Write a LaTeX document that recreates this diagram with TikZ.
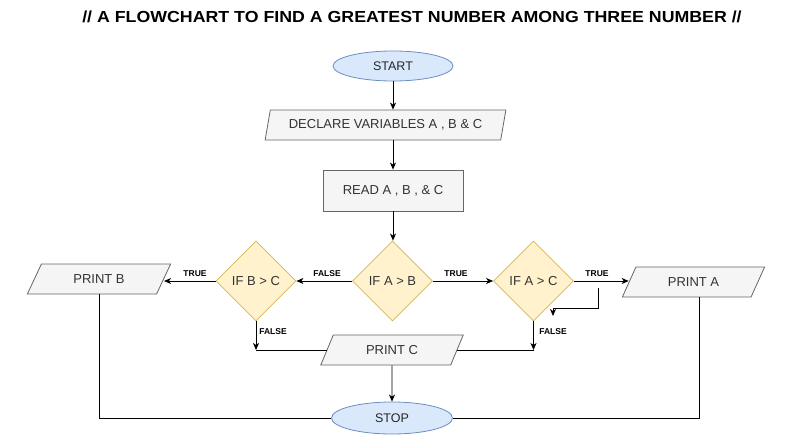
\documentclass[tikz,border=0pt]{standalone}
\usepackage{fontspec}
\setmainfont{Liberation Sans}
\usetikzlibrary{shapes.geometric,arrows.meta}
\definecolor{bluefill}{HTML}{DAE8FC}
\definecolor{bluedraw}{HTML}{6C8EBF}
\definecolor{grayfill}{HTML}{F5F5F5}
\definecolor{graydraw}{HTML}{666666}
\definecolor{graytext}{HTML}{333333}
\definecolor{yelfill}{HTML}{FFF2CC}
\definecolor{yeldraw}{HTML}{D6B656}
\begin{document}
\begin{tikzpicture}[x=1pt,y=-1pt,
  term/.style={ellipse,draw=bluedraw,fill=bluefill,line width=0.8pt,inner sep=0pt,text=black!85,font=\fontsize{12.5}{14}\selectfont},
  iobox/.style={trapezium,trapezium stretches=true,draw=graydraw,fill=grayfill,text=graytext,line width=0.8pt,inner sep=0pt,minimum height=30pt,font=\fontsize{13}{15}\selectfont},
  procbox/.style={rectangle,draw=graydraw,fill=grayfill,text=graytext,line width=0.8pt,inner sep=0pt,font=\fontsize{13}{15}\selectfont},
  decide/.style={diamond,draw=yeldraw,fill=yelfill,aspect=1,minimum size=80pt,inner sep=0pt,line width=0.8pt,text=black!80,font=\fontsize{13}{15}\selectfont},
  flow/.style={line width=0.8pt,-{Stealth[length=7pt,width=6pt,inset=2pt]}},
  link/.style={line width=0.8pt},
  lbl/.style={font=\fontsize{8.5}{10}\selectfont\bfseries,inner sep=0pt}
]
\useasboundingbox (0,0) rectangle (801,436);
\node[font=\fontsize{16}{18}\selectfont\bfseries] (title) at (412,17) {\scalebox{1.11}[1]{// A FLOWCHART TO FIND A GREATEST NUMBER AMONG THREE NUMBER //}};

\node[term,minimum width=120pt,minimum height=30pt] (start) at (393,66) {START};
\node[iobox,trapezium left angle=68,trapezium right angle=112,minimum width=241pt] (decl) at (385.5,125) {DECLARE VARIABLES A , B \& C};
\node[procbox,minimum width=140pt,minimum height=41pt] (read) at (393,190.5) {READ A , B , \& C};
\node[decide] (ab) at (392.5,281) {IF A > B};
\node[decide] (bc) at (256,281) {IF B > C};
\node[decide] (ac) at (533.5,281) {IF A > C};
\node[iobox,trapezium left angle=55,trapezium right angle=125,minimum width=144pt] (pb) at (99,279) {PRINT B};
\node[iobox,trapezium left angle=56,trapezium right angle=124,minimum width=143pt] (pa) at (693.5,282) {PRINT A};
\node[iobox,trapezium left angle=59,trapezium right angle=121,minimum width=143pt] (pc) at (392,350) {PRINT C};
\node[term,minimum width=121pt,minimum height=32pt] (stop) at (392,418) {STOP};

\coordinate (jl) at (bc.south |- pc.west);
\coordinate (jr) at (ac.south |- pc.east);
\coordinate (s1) at (598,288);
\coordinate (s2) at (598,308);
\coordinate (s3) at (553,316);

\draw[flow] (start.south) -- (start.south |- decl.north);
\draw[flow] (start.south |- decl.south) -- (read.north);
\draw[flow] (read.south) -- (read.south |- ab.north);
\draw[flow] (ab.west) -- (bc.east);
\draw[flow] (ab.east) -- (ac.west);
\draw[flow] (bc.west) -- (bc.west -| pb.east);
\draw[flow] (ac.east) -- (ac.east -| pa.west);
\draw[flow] (s1) -- (s2) -| (s3);
\draw[flow] (bc.south) -- (jl);
\draw[link] (jl) -- (pc.west);
\draw[flow] (ac.south) -- (jr);
\draw[link] (jr) -- (pc.east);
\draw[flow] (pc.south) -- (stop.north);
\draw[link] (pb.south) |- (stop.west);
\draw[link] ([xshift=5.5pt]pa.south) |- (stop.east);

\node[lbl] (l1) at (195,273.5) {TRUE};
\node[lbl] (l2) at (327,273.5) {FALSE};
\node[lbl] (l3) at (456,273.5) {TRUE};
\node[lbl] (l4) at (597,273.5) {TRUE};
\node[lbl] (l5) at (273,332) {FALSE};
\node[lbl] (l6) at (553,332) {FALSE};
\end{tikzpicture}
\end{document}
